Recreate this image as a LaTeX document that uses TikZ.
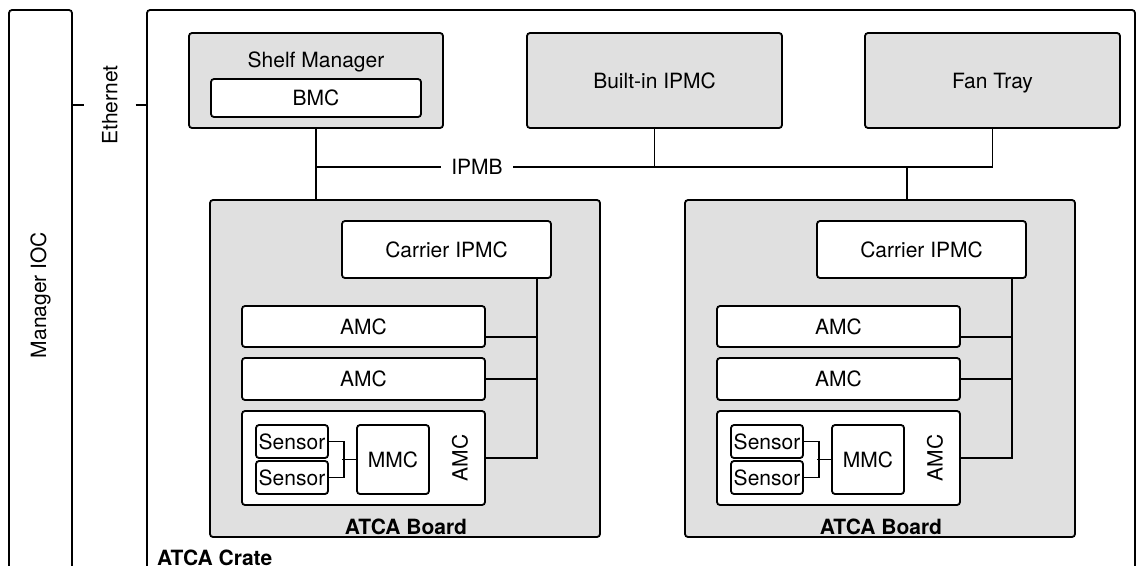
\documentclass[tikz,border=0pt]{standalone}
\usepackage{fontspec}
\setmainfont{TeX Gyre Heros}
\usetikzlibrary{positioning,calc}
\definecolor{boxgrey}{HTML}{E0E0E0}
\newcommand\diagfont{\fontsize{21}{24}\selectfont}
\tikzset{
    frame line/.style={draw=black,line width=1.8pt,rounded corners=3pt},
    grey box/.style={frame line,fill=boxgrey,inner sep=0pt,text height=15pt,text depth=0pt},
    white box/.style={frame line,fill=white,inner sep=0pt,text height=15pt,text depth=0pt},
    wire/.style={line width=1.6pt},
    vert text/.style={rotate=90,inner sep=0pt},
    bold text/.style={font=\diagfont\bfseries,inner sep=0pt},
}
\tikzstyle{every node}=[font=\diagfont]

\begin{document}
\begin{tikzpicture}[x=1pt,y=-1pt]
        \useasboundingbox (0,0) rectangle (1145,565);
        \clip (0,0) rectangle (1145,565);

        % manager and crate
        \node[frame line,rotate=90,minimum width=570,minimum height=63] (ioc) at (40.5,295) {Manager IOC};
        \node[frame line,minimum width=988,minimum height=570] (crate) at (641,295) {};
        \node[bold text,anchor=base west] (cratetitle) at (157,565) {ATCA Crate};

        \node[rotate=90,inner xsep=0pt,inner ysep=17.5pt] (eth) at (110,105) {Ethernet};
        \draw[wire] (ioc.south |- eth.center) -- (eth.north);
        \draw[wire] (eth.south) -- (eth.south -| crate.west);

        % shelf components
        \node[grey box,minimum width=254,minimum height=95] (shelf) at (316,80.5) {};
        \node (shelftitle) at (316,62) {Shelf Manager};
        \node[white box,minimum width=210,minimum height=38] (bmc) at (316,98) {BMC};
        \node[grey box,minimum width=255,minimum height=95] (builtin) at (654.5,80.5) {Built-in IPMC};
        \node[grey box,minimum width=255,minimum height=95] (fantray) at (992.5,80.5) {Fan Tray};

        % boards
        \foreach \ox/\side in {0/l,475/r}{
            \begin{scope}[xshift=\ox pt]
                \node[grey box,minimum width=390,minimum height=337] (board\side) at (405,368.5) {};
                \node[bold text,anchor=base] (boardtitle\side) at (406,534) {ATCA Board};
                \node[white box,minimum width=209,minimum height=57] (carrier\side) at (446.5,249.5) {Carrier IPMC};
                \node[white box,minimum width=243,minimum height=41] (amca\side) at (363.5,326.5) {AMC};
                \node[white box,minimum width=243,minimum height=42] (amcb\side) at (363.5,379) {AMC};
                \node[white box,minimum width=243,minimum height=94] (amcc\side) at (363.5,458) {};
                \node[vert text] (amclabel\side) at (460,458) {AMC};
                \node[white box,minimum width=72,minimum height=33] (sensa\side) at (292,441.5) {Sensor};
                \node[white box,minimum width=72,minimum height=33] (sensb\side) at (292,477.5) {Sensor};
                \node[white box,minimum width=72,minimum height=69] (mmc\side) at (393,459.5) {MMC};
                \coordinate (bus\side) at (537,0);

                \draw[wire] (carrier\side.south -| bus\side) |- (amcc\side.east);
                \draw[wire] ([yshift=-10.5pt]amca\side.east) -- ([yshift=-10.5pt]amca\side.east -| bus\side);
                \draw[wire] (amcb\side.east) -- (amcb\side.east -| bus\side);
                \draw[wire] (sensa\side.east) -- ++(15,0) |- (sensb\side.east);
                \draw[wire] (mmc\side.west) -- ++(-14,0);
            \end{scope}
        }

        % IPMB
        \coordinate (ipmbl) at (316,167);
        \coordinate (tapr) at (907,167);
        \draw[wire] (shelf.south) -- (shelf.south |- boardl.north);
        \draw[wire] (ipmbl) -- (ipmbl -| fantray.south) -- (fantray.south);
        \draw[wire] (builtin.south) -- (builtin.south |- ipmbl);
        \draw[wire] (tapr) -- (tapr |- boardr.north);
        \node[fill=white,inner xsep=10pt,inner ysep=2pt] (ipmb) at (477,167) {IPMB};
\end{tikzpicture}
\end{document}
